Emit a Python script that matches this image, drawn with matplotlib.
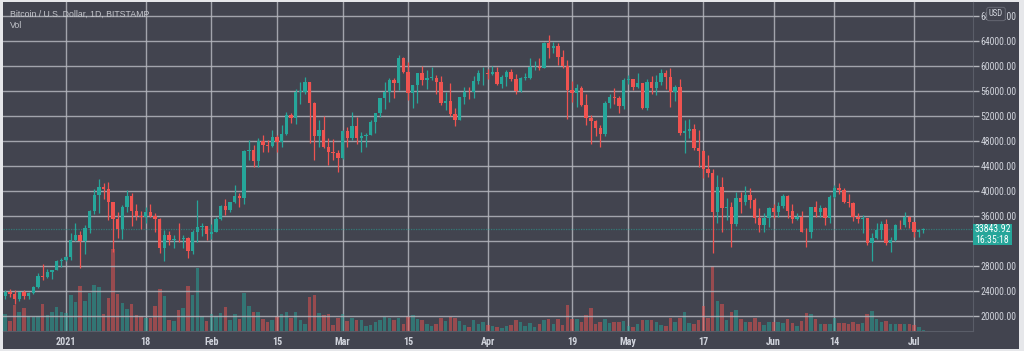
import matplotlib
matplotlib.use('Agg')
import matplotlib.pyplot as plt
import matplotlib.dates as mdates
import matplotlib.transforms as mtransforms
from matplotlib.patches import Rectangle
from matplotlib import font_manager
import numpy as np
import pandas as pd

# ---------------- data ----------------
dates = pd.date_range('2020-12-19', '2021-07-03', freq='D')

opens = [23150, 23870, 23480, 22720, 23820, 23240, 23730, 24700, 26440, 26250, 27040, 27370, 28880,
         28990, 29400, 32200, 33000, 32000, 34000, 36800, 39400, 40600, 40250, 38200, 35500, 33900, 37400,
         39150, 36800, 36050, 35800, 36600, 36000, 35500, 30800, 33000, 32100, 32300, 32250, 32500, 30400,
         33500, 34300, 34320,
         33100, 33500, 35500, 37650, 36900, 38250, 39250, 38900, 46400, 46500, 44850, 48000, 47400, 47200,
         48650, 47900, 49150, 52100, 51600, 55900, 55900, 57400, 54100, 48800, 49700, 47000, 46300, 46150,
         45200, 49600, 48400, 50400, 48400, 48800, 48900, 51000, 52400, 54900, 55900, 57800, 57200, 61200,
         59000, 55600, 56900, 58900, 57700, 58100, 58100, 57400, 54100, 54400, 52300, 51300, 55100, 55900,
         55800, 57600, 58800,
         58800, 58700, 59000, 57100, 58200, 59100, 57900, 56000, 58100, 58100, 59800, 59900, 59700, 63600,
         62900, 63200, 61400, 60000, 56200, 55700, 56500, 53800, 51700, 51200, 50100, 49100, 54000, 55100,
         54900, 53600,
         57800, 57900, 56600, 57200, 53300, 57500, 56400, 57400, 58900, 58300, 55900, 56700, 49300, 49600,
         49900, 46800, 46400, 43500, 42900, 36700, 40600, 37300, 37500, 34700, 38800, 38300, 39300, 38500,
         35700, 34600, 35700,
         37300, 36700, 37600, 39200, 36800, 35500, 35800, 33500, 33400, 37400, 36700, 37300, 35600, 39100,
         40500, 40200, 38300, 38100, 35800, 35500, 35600, 31700, 32500, 33700, 34700, 31600, 32200, 34600,
         34500, 35900,
         35000, 33500, 33800]

highs = [24170, 24280, 24100, 23830, 24110, 23790, 24790, 26870, 28400, 27500, 27400, 28990, 29300,
         29600, 33300, 34800, 33600, 34500, 36900, 40300, 41950, 41350, 41400, 38250, 36600, 37700, 40100,
         39700, 37900, 36850, 37400, 37850, 36400, 35600, 33800, 33600, 32900, 34850, 32900, 32600, 33800,
         38500, 34900, 34400,
         34700, 35900, 37700, 38700, 38300, 40900, 39700, 46600, 48200, 47300, 48500, 48900, 48100, 49700,
         49000, 50600, 52600, 52500, 56300, 57500, 58300, 57500, 54200, 51300, 52000, 48400, 48300, 46600,
         49800, 50200, 52600, 51800, 49500, 49200, 51400, 52400, 54900, 57400, 58000, 58000, 61700, 61500,
         60600, 56900, 58900, 60000, 59400, 59900, 58600, 58400, 55800, 57200, 53200, 55100, 56600, 56600,
         58400, 59400, 59800,
         59500, 60000, 59800, 58500, 59300, 59500, 58700, 58200, 58900, 61200, 60800, 61300, 63800, 64900,
         63800, 63600, 62600, 61000, 57600, 57100, 56800, 55500, 52200, 51300, 50500, 54400, 55500, 56400,
         55200, 58000,
         58500, 57900, 58900, 57200, 57900, 58400, 58600, 59500, 59300, 59600, 56900, 57900, 51400, 51500,
         50700, 49800, 46600, 45700, 43500, 42500, 42200, 38800, 38200, 39900, 39800, 40800, 40400, 38800,
         37300, 36400, 37500,
         37900, 38200, 39500, 39300, 37900, 36400, 36800, 34100, 37500, 38400, 37700, 37400, 39300, 41000,
         41300, 40500, 39500, 38200, 36400, 36100, 35700, 33300, 34800, 35200, 35500, 32700, 34700, 35300,
         36600, 36000,
         35000, 33900, 34100]

lows = [22750, 23070, 21900, 22360, 22700, 22700, 23450, 24500, 25800, 26100, 25850, 27340, 27850,
        28800, 28950, 32000, 27700, 29900, 33300, 36300, 36500, 38700, 35300, 30300, 32500, 32300, 36700,
        34400, 35400, 33850, 34800, 35900, 33400, 30100, 28800, 31400, 30900, 31900, 30850, 29300, 29900,
        31900, 32800, 32200,
        32300, 33400, 35400, 36200, 36600, 38150, 37400, 37900, 45000, 43800, 43900, 46300, 46200, 47000,
        46300, 47100, 49000, 50900, 50700, 53900, 55500, 47600, 45000, 47100, 46800, 44100, 45000, 43000,
        45100, 47000, 48100, 47500, 46300, 47100, 48900, 49300, 51900, 53100, 54300, 54900, 56100, 58900,
        54600, 53300, 54100, 57000, 56300, 57800, 55500, 53700, 53000, 52000, 50400, 51300, 53900, 54700,
        54900, 57100, 56900,
        57900, 58500, 57000, 56500, 56800, 57600, 55500, 55800, 57700, 57900, 59400, 59400, 59700, 61300,
        62100, 60100, 59700, 51500, 54200, 53400, 53600, 50500, 47500, 48800, 47000, 48800, 53300, 53900,
        52400, 53100,
        57100, 56100, 56500, 53100, 52900, 55500, 55300, 56900, 56300, 53500, 54400, 48900, 46000, 48500,
        46600, 43800, 42100, 42300, 30000, 34800, 33500, 35300, 31100, 34400, 36400, 37800, 37200, 34800,
        33400, 33400, 34200,
        35700, 35900, 37200, 35600, 34800, 35300, 33400, 31000, 32400, 35800, 35900, 34600, 34800, 38800,
        39500, 38100, 37400, 35200, 34800, 33300, 31300, 28800, 32300, 32300, 31300, 30200, 32000, 33900,
        34200, 34000,
        32700, 32700, 33300]

closes = [23870, 23480, 22720, 23820, 23240, 23730, 24700, 26440, 26250, 27040, 27370, 28880, 28990,
          29400, 32200, 33000, 32000, 34000, 36800, 39400, 40600, 40250, 38200, 35500, 33900, 37400, 39150,
          36800, 36050, 35800, 36600, 36000, 35500, 30800, 33000, 32100, 32300, 32250, 32500, 30400, 33500,
          34300, 34320, 33100,
          33500, 35500, 37650, 36900, 38250, 39250, 38900, 46400, 46500, 44850, 48000, 47400, 47200, 48650,
          47900, 49150, 52100, 51600, 55900, 55950, 57400, 54100, 48800, 49700, 47000, 46300, 46150, 45200,
          49600, 48400, 50400, 48400, 48800, 48900, 51000, 52400, 54900, 55900, 57800, 57200, 61200, 59000,
          55600, 56900, 58900, 57700, 58100, 58150, 57400, 54100, 54400, 52300, 51300, 55100, 55900, 55800,
          57600, 58800, 58850,
          58700, 59000, 57100, 58200, 59100, 57900, 56000, 58100, 58150, 59800, 59900, 59700, 63600, 62900,
          63200, 61400, 60000, 56200, 55700, 56500, 53800, 51700, 51200, 50100, 49100, 54000, 55100, 54900,
          53600, 57800,
          57900, 56600, 57200, 53300, 57500, 56400, 57400, 58900, 58300, 55900, 56700, 49300, 49600, 49900,
          46800, 46400, 43500, 42900, 36700, 40600, 37300, 37500, 34700, 38800, 38300, 39300, 38500, 35700,
          34600, 35700, 37300,
          36700, 37600, 39200, 36800, 35500, 35800, 33500, 33400, 37400, 36700, 37300, 35600, 39100, 40500,
          40200, 38300, 38100, 35800, 35500, 35600, 31700, 32500, 33700, 34700, 31600, 32200, 34600, 34500,
          35900, 35000,
          33500, 33800, 33843.92]

volumes = [17, 10, 26, 19, 23, 15, 14, 15, 27, 16, 19, 24, 19,
           18, 36, 29, 45, 30, 38, 46, 44, 17, 33, 82, 37, 28, 22, 27, 16, 15, 13, 13, 25, 42, 35, 11, 10,
           21, 23, 45, 36, 63, 15, 10,
           17, 15, 18, 24, 11, 17, 12, 38, 25, 19, 19, 12, 9, 11, 15, 17, 19, 13, 19, 11, 7, 34, 36,
           18, 16, 17, 6, 13,
           17, 10, 13, 11, 11, 5, 6, 9, 11, 14, 13, 11, 13, 7, 15, 16, 12, 11, 7, 5, 7, 13, 10, 14, 13, 10,
           6, 4, 11, 7, 9,
           6, 5, 4, 3, 5, 6, 11, 9, 5, 8, 4, 7, 11, 12, 7, 12, 6, 26, 12, 12, 9, 16, 23, 7, 9, 12, 8, 9, 9, 10,
           5, 4, 7,
           11, 11, 11, 9, 6, 5, 13, 9, 13, 19, 8, 7, 11, 25, 13, 65, 30, 27, 11, 19, 21, 12, 9, 9, 13, 9, 6, 9,
           9, 9, 8, 12, 8, 5, 10, 18, 17, 12, 7, 7, 7, 13, 8, 8, 7, 9, 7, 8, 17, 20, 12, 9, 10, 7, 7, 7, 7, 7,
           6, 4, 1]

tick_dates = ['2021-01-01', '2021-01-18', '2021-02-01', '2021-02-15', '2021-03-01', '2021-03-15',
              '2021-04-01', '2021-04-19', '2021-05-01', '2021-05-17', '2021-06-01', '2021-06-14', '2021-07-01']
tick_labels = ['2021', '18', 'Feb', '15', 'Mar', '15', 'Apr', '19', 'May', '17', 'Jun', '14', 'Jul']
price_ticks = list(range(20000, 68001, 4000))
hidden_price_labels = [32000]
last_price = 33843.92
countdown = '16:35:18'
title_text = 'Bitcoin / U.S. Dollar, 1D, BITSTAMP'
vol_text = 'Vol'
currency = 'USD'

# ---------------- style ----------------
W, H = 1024, 351
BG = '#42444f'
FRAME = '#e6e7ea'
GRID = '#b4b6bd'
TXT = '#d1d4dc'
UP = '#26a69a'
DOWN = '#ef5350'
SEP = '#5a5d68'

available = {f.name for f in font_manager.fontManager.ttflist}
family = 'DejaVu Sans'
for cand in ['Liberation Sans Narrow', 'Roboto Condensed', 'Liberation Sans']:
    if cand in available:
        family = cand
        break
head_family = 'Liberation Sans' if 'Liberation Sans' in available else 'DejaVu Sans'
plt.rcParams['font.family'] = [family, 'DejaVu Sans']

fig = plt.figure(figsize=(W / 100, H / 100), dpi=100)
fig.patch.set_facecolor(FRAME)
fig.add_artist(Rectangle((3 / W, 2 / H), 1016 / W, 347 / H, transform=fig.transFigure,
                         facecolor=BG, edgecolor='none', zorder=0))

# main pane: x 3..973 px, y 2..331 px (from top)
ax_vol = fig.add_axes([3 / W, (H - 331) / H, 970 / W, 329 / H])
ax_vol.set_facecolor(BG)
ax_price = ax_vol.twinx()
ax_price.patch.set_visible(False)

x = mdates.date2num(dates)
o = np.array(opens, float)
h = np.array(highs, float)
l = np.array(lows, float)
c = np.array(closes, float)
v = np.array(volumes, float)
up = c >= o
colors = np.where(up, UP, DOWN)

px_per_day = 4.685
x0 = x[0] - (5.2 - 3) / px_per_day
x1 = x0 + 970 / px_per_day
ax_vol.set_xlim(x0, x1)

# volume
ax_vol.bar(x, v, width=0.75, color=colors, alpha=0.5, linewidth=0, zorder=2)
ax_vol.set_ylim(0, v.max() * 329 / 82)

# price
ax_price.set_ylim(17600, 20000 + 314 * 160)
ax_price.vlines(x, l, h, colors=colors, linewidth=0.9, zorder=3)
body_bottom = np.minimum(o, c)
body_h = np.maximum(np.abs(c - o), 110)
ax_price.bar(x, body_h, bottom=body_bottom, width=0.72, color=colors, linewidth=0, zorder=4)

# grid & ticks
tick_x = mdates.date2num(pd.to_datetime(tick_dates))
ax_vol.set_xticks(tick_x)
ax_vol.set_xticklabels(tick_labels, fontsize=7.2, fontweight='bold', color=TXT)
ax_vol.tick_params(axis='x', length=0, pad=4.5)
ax_vol.grid(axis='x', color=GRID, linewidth=1.0, alpha=0.85, zorder=1)
ax_vol.set_axisbelow(True)
ax_vol.tick_params(axis='y', left=False, labelleft=False)

ax_price.set_yticks(price_ticks)
ax_price.set_yticklabels(['' if p in hidden_price_labels else f'{p:.2f}' for p in price_ticks])
ax_price.tick_params(axis='y', length=4, width=1.0, color=GRID, pad=1.5, labelsize=7, labelcolor=TXT)
ax_price.grid(axis='y', color=GRID, linewidth=1.0, alpha=0.85, zorder=1)
ax_price.set_axisbelow(True)

for sp in ['top', 'left']:
    ax_vol.spines[sp].set_visible(False)
ax_vol.spines['right'].set_color(SEP)
ax_vol.spines['bottom'].set_color(SEP)
ax_vol.spines['right'].set_linewidth(0.8)
ax_vol.spines['bottom'].set_linewidth(0.8)
for sp in ax_price.spines.values():
    sp.set_visible(False)

# last price line and tag
ax_price.axhline(last_price, color=UP, linestyle=(0, (1, 1)), linewidth=0.9, alpha=0.55, zorder=2)
blend = mtransforms.blended_transform_factory(ax_price.transAxes, ax_price.transData)
ax_price.add_patch(Rectangle((1.0, last_price - 2480), 39 / 970, 3357, transform=blend,
                             facecolor=UP, edgecolor='none', clip_on=False, zorder=10))
ax_price.text(1.0 + 19.5 / 970, last_price, f'{last_price:.2f}', transform=blend, ha='center',
              va='center', fontsize=7, color='white', zorder=11, clip_on=False)
off = mtransforms.offset_copy(blend, fig=fig, x=0, y=-11, units='dots')
ax_price.text(1.0 + 19.5 / 970, last_price, countdown, transform=off, ha='center',
              va='center', fontsize=7, color='white', zorder=11, clip_on=False)

# header texts
fig.text(10 / W, 1 - 14 / H, title_text, fontsize=6.3, color='#c4c6cc', ha='left', va='center',
         family=[head_family, 'DejaVu Sans'])
fig.text(10 / W, 1 - 26 / H, vol_text, fontsize=6.3, color='#c4c6cc', ha='left', va='center',
         family=[head_family, 'DejaVu Sans'])
fig.text(996 / W, 1 - 14 / H, currency, fontsize=6.3, color=TXT, ha='center', va='center', zorder=12,
         bbox=dict(boxstyle='round,pad=0.25', facecolor=BG, edgecolor='#6a6d78', linewidth=0.6))

fig.savefig('out.png', dpi=100, facecolor=FRAME)
